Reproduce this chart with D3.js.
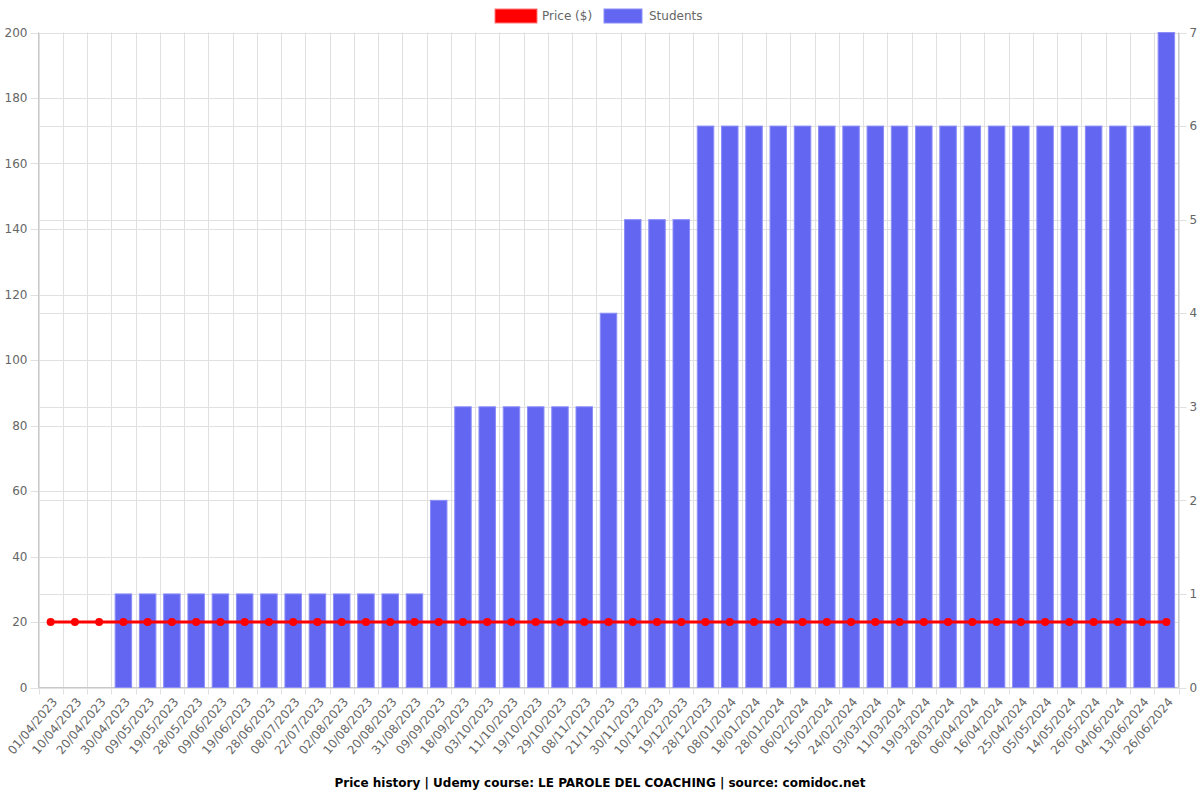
<!DOCTYPE html>
<html><head><meta charset="utf-8">
<script src="https://cdn.jsdelivr.net/npm/d3@7"></script>
<style>body{margin:0;background:#fff}svg{display:block}text{font-family:"DejaVu Sans",sans-serif}</style>
</head><body><svg id="c" width="1200" height="800"></svg>
<script>
const dates = ["01/04/2023","10/04/2023","20/04/2023","30/04/2023","09/05/2023","19/05/2023","28/05/2023","09/06/2023","19/06/2023","28/06/2023","08/07/2023","22/07/2023","02/08/2023","10/08/2023","20/08/2023","31/08/2023","09/09/2023","18/09/2023","03/10/2023","11/10/2023","19/10/2023","29/10/2023","08/11/2023","21/11/2023","30/11/2023","10/12/2023","19/12/2023","28/12/2023","08/01/2024","18/01/2024","28/01/2024","06/02/2024","15/02/2024","24/02/2024","03/03/2024","11/03/2024","19/03/2024","28/03/2024","06/04/2024","16/04/2024","25/04/2024","05/05/2024","14/05/2024","26/05/2024","04/06/2024","13/06/2024","26/06/2024"];
const price = [20,20,20,20,20,20,20,20,20,20,20,20,20,20,20,20,20,20,20,20,20,20,20,20,20,20,20,20,20,20,20,20,20,20,20,20,20,20,20,20,20,20,20,20,20,20,20];
const students = [0,0,0,1,1,1,1,1,1,1,1,1,1,1,1,1,2,3,3,3,3,3,3,4,5,5,5,6,6,6,6,6,6,6,6,6,6,6,6,6,6,6,6,6,6,6,7];
const priceTicks = [0,20,40,60,80,100,120,140,160,180,200];
const studentTicks = [0,1,2,3,4,5,6,7];
const title = "Price history | Udemy course: LE PAROLE DEL COACHING | source: comidoc.net";

const svg = d3.select("#c");
const L=38.5, R=1178.5, T=32.5, B=687.5;
const x = d3.scaleBand().domain(dates).range([L,R]);
const yL = d3.scaleLinear().domain([0,200]).range([B,T]);
const yR = d3.scaleLinear().domain([0,7]).range([B,T]);
const grid = "#e0e0e0", axisC="#c8c8c8", txt="#666";

const g = svg.append("g");
const bounds = dates.map(d=>x(d)).concat([R]);
g.selectAll(".vg").data(bounds).enter().append("line")
 .attr("x1",d=>Math.round(d)+0.5).attr("x2",d=>Math.round(d)+0.5).attr("y1",T).attr("y2",B+7)
 .attr("stroke",grid);
g.selectAll(".hg").data(priceTicks).enter().append("line")
 .attr("x1",L-8).attr("x2",R).attr("y1",d=>Math.round(yL(d))+0.5).attr("y2",d=>Math.round(yL(d))+0.5).attr("stroke",grid);
g.selectAll(".hr").data(studentTicks).enter().append("line")
 .attr("x1",L).attr("x2",R+8).attr("y1",d=>Math.round(yR(d))+0.5).attr("y2",d=>Math.round(yR(d))+0.5).attr("stroke",grid);
g.append("line").attr("x1",L).attr("x2",L).attr("y1",T).attr("y2",B).attr("stroke",axisC);
g.append("line").attr("x1",R).attr("x2",R).attr("y1",T).attr("y2",B).attr("stroke",axisC);
g.append("line").attr("x1",L).attr("x2",R).attr("y1",B).attr("y2",B).attr("stroke",axisC);

const bw = x.bandwidth()*0.68;
g.selectAll(".bar").data(students).enter().append("rect")
 .attr("x",(d,i)=>x(dates[i])+(x.bandwidth()-bw)/2)
 .attr("y",d=>yR(d)).attr("width",bw).attr("height",d=>B-yR(d))
 .attr("fill","rgb(99,102,241)").attr("stroke","rgba(140,142,248,1)").attr("stroke-width",1);

const cx = (d,i)=>x(dates[i])+x.bandwidth()/2;
g.append("path").datum(price)
 .attr("d",d3.line().x(cx).y(d=>yL(d)))
 .attr("fill","none").attr("stroke","#ff0000").attr("stroke-width",3);
g.selectAll(".pt").data(price).enter().append("circle")
 .attr("cx",cx).attr("cy",d=>yL(d)).attr("r",4).attr("fill","#ff0000");

g.selectAll(".lt").data(priceTicks).enter().append("text")
 .attr("x",L-11).attr("y",d=>yL(d)).attr("dy","0.35em").attr("text-anchor","end")
 .attr("font-size",12).attr("fill",txt).text(d=>d);
g.selectAll(".rt").data(studentTicks).enter().append("text")
 .attr("x",R+11).attr("y",d=>yR(d)).attr("dy","0.35em").attr("text-anchor","start")
 .attr("font-size",12).attr("fill",txt).text(d=>d);
g.selectAll(".xt").data(dates).enter().append("text")
 .attr("transform",d=>`translate(${x(d)+x.bandwidth()/2+4},${B+12}) rotate(-50)`)
 .attr("text-anchor","end").attr("dy","0.35em")
 .attr("font-size",12).attr("fill",txt).text(d=>d);

const lg = svg.append("g");
lg.append("rect").attr("x",495).attr("y",9).attr("width",42).attr("height",14).attr("fill","#ff0000").attr("stroke","rgba(255,120,120,1)");
lg.append("text").attr("x",542).attr("y",16).attr("dy","0.35em").attr("font-size",12).attr("fill",txt).text("Price ($)");
lg.append("rect").attr("x",604).attr("y",9).attr("width",38).attr("height",14).attr("fill","rgb(99,102,241)").attr("stroke","rgba(140,142,248,1)");
lg.append("text").attr("x",649).attr("y",16).attr("dy","0.35em").attr("font-size",12).attr("fill",txt).text("Students");

svg.append("text").attr("x",600).attr("y",783).attr("dy","0.35em").attr("text-anchor","middle")
 .attr("font-size",12).attr("font-weight","bold").attr("fill","#000").text(title);
</script></body></html>
